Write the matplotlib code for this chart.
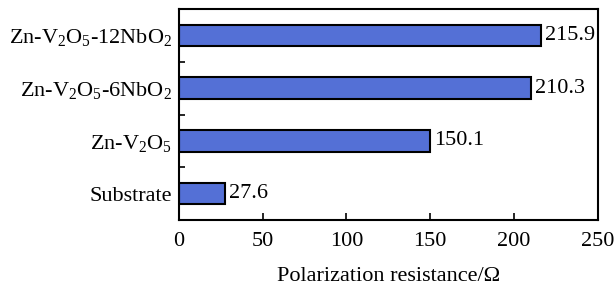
import matplotlib
matplotlib.use("Agg")
import matplotlib.pyplot as plt
import numpy as np

plt.rcParams['font.family'] = ['Liberation Serif', 'DejaVu Serif']
plt.rcParams['mathtext.fontset'] = 'custom'
plt.rcParams['mathtext.rm'] = 'Liberation Serif'
plt.rcParams['mathtext.it'] = 'Liberation Serif:italic'

categories = ['Substrate', 'Zn-V$\\mathregular{_2}$O$\\mathregular{_5}$',
              'Zn-V$\\mathregular{_2}$O$\\mathregular{_5}$-6NbO$\\mathregular{_2}$',
              'Zn-V$\\mathregular{_2}$O$\\mathregular{_5}$-12NbO$\\mathregular{_2}$']
values = [27.6, 150.1, 210.3, 215.9]
xticks = [0, 50, 100, 150, 200, 250]

fs = 16
fig = plt.figure(figsize=(6.16, 2.86), dpi=100)
ax = fig.add_axes([178.7/616, 1-220/286, 419/616, 211/286])
y = np.arange(len(values))
ax.barh(y, values, height=0.41, color='#5470d6', edgecolor='black', linewidth=1.5)
for yi, v in zip(y, values):
    ax.text(v + 2.4, yi, f'{v:.1f}', va='center', ha='left', fontsize=fs)

ax.set_xlim(0, 250)
ax.set_ylim(-0.5, 3.5)
ax.set_xticks(xticks)
ax.set_xticklabels([str(t) for t in xticks], fontsize=fs)
ax.set_yticks(y)
ax.set_yticklabels(categories, fontsize=fs)
ax.set_yticks([0.5, 1.5, 2.5], minor=True)
ax.tick_params(axis='y', which='major', length=0, pad=5)
ax.tick_params(axis='y', which='minor', direction='in', length=4, width=1.2)
ax.tick_params(axis='x', direction='in', length=5, width=1.2, pad=9)
for s in ax.spines.values():
    s.set_linewidth(1.5)
ax.set_xlabel('Polarization resistance/Ω', fontsize=fs, labelpad=11)

fig.savefig('out.png', dpi=100)
